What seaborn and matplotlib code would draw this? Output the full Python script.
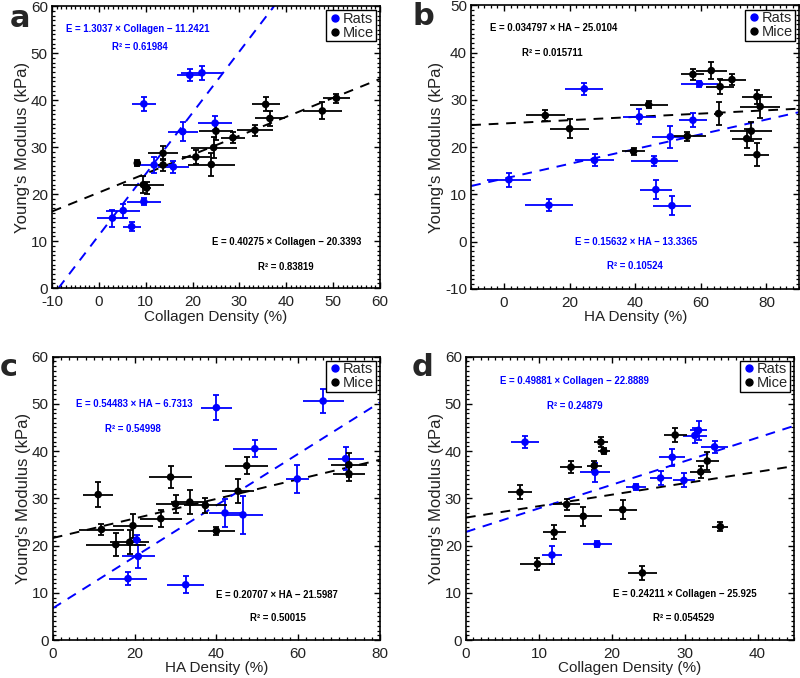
import numpy as np
import pandas as pd
import matplotlib
matplotlib.use("Agg")
import matplotlib.pyplot as plt
import seaborn as sns
from matplotlib.ticker import MultipleLocator
from matplotlib.lines import Line2D

# ---------------- data ----------------
# Panel a: Young's modulus vs collagen density
a_rats_x = [2.9, 5.2, 7.0, 9.6, 9.6, 11.8, 15.9, 17.9, 19.4, 22.0, 24.8]
a_rats_y = [14.9, 16.5, 13.1, 18.4, 39.2, 26.2, 25.8, 33.3, 45.3, 45.8, 35.1]
a_rats_xerr = [3.4, 3.6, 1.9, 3.7, 2.5, 4.3, 3.3, 3.2, 2.8, 4.4, 3.7]
a_rats_yerr = [1.8, 1.5, 1.0, 0.8, 1.5, 1.8, 1.3, 2.0, 1.3, 1.5, 1.5]
a_mice_x = [8.2, 9.5, 10.2, 13.7, 13.7, 20.7, 24.0, 24.5, 25.0, 28.6, 33.3, 35.6, 36.5, 47.7, 50.7]
a_mice_y = [26.6, 22.0, 21.3, 28.7, 26.2, 27.9, 26.3, 29.9, 33.4, 32.0, 33.6, 39.1, 36.1, 37.7, 40.4]
a_mice_xerr = [0.8, 4.3, 1.0, 3.2, 1.0, 3.0, 5.0, 4.9, 3.7, 2.5, 3.9, 3.0, 3.2, 4.1, 2.8]
a_mice_yerr = [0.6, 1.8, 1.2, 1.5, 1.3, 1.5, 2.5, 2.2, 1.8, 1.2, 1.2, 1.5, 1.5, 1.8, 1.0]

# Panel b: Young's modulus vs HA density
b_rats_x = [1.5, 13.7, 24.5, 27.6, 41.3, 45.8, 46.3, 50.7, 51.2, 57.6, 59.6]
b_rats_y = [13.1, 7.7, 32.35, 17.2, 26.4, 17.1, 11.0, 22.2, 7.6, 25.7, 33.4]
b_rats_xerr = [6.6, 7.3, 5.8, 6.0, 5.0, 7.2, 4.8, 5.5, 5.8, 4.3, 5.7]
b_rats_yerr = [1.5, 1.3, 1.3, 1.3, 1.6, 1.0, 2.0, 2.3, 2.0, 1.5, 0.6]
b_mice_x = [12.6, 20.0, 39.5, 44.1, 55.9, 57.6, 63.2, 65.9, 65.4, 69.5, 75.4, 74.0, 77.1, 78.1, 77.1]
b_mice_y = [26.7, 23.9, 19.1, 29.0, 22.3, 35.4, 36.2, 32.8, 27.1, 34.3, 23.4, 21.8, 30.7, 28.6, 18.4]
b_mice_xerr = [6.0, 6.0, 3.5, 5.8, 5.8, 3.5, 4.8, 4.3, 1.5, 4.3, 6.4, 4.6, 4.6, 6.1, 3.8]
b_mice_yerr = [1.2, 2.0, 0.8, 0.8, 1.0, 1.2, 1.8, 1.6, 2.5, 1.2, 2.0, 2.0, 1.5, 2.5, 2.5]

# Panel c: Young's modulus vs HA density
c_rats_x = [18.4, 20.9, 20.5, 32.5, 40.0, 42.1, 46.5, 49.4, 59.8, 66.1, 71.6]
c_rats_y = [13.0, 17.7, 21.2, 11.7, 49.2, 26.9, 26.5, 40.5, 34.1, 50.6, 38.4]
c_rats_xerr = [4.6, 4.0, 1.0, 4.5, 3.8, 4.0, 4.9, 5.4, 2.8, 5.0, 4.4]
c_rats_yerr = [1.4, 2.5, 1.0, 1.8, 2.7, 3.0, 4.0, 1.8, 3.0, 2.6, 2.5]
c_mice_x = [11.1, 11.9, 15.4, 18.8, 19.6, 26.4, 28.8, 30.0, 33.5, 37.3, 40.0, 45.3, 47.4, 72.4, 72.4]
c_mice_y = [30.8, 23.4, 20.2, 20.7, 24.2, 25.7, 34.5, 28.8, 29.2, 28.5, 23.1, 31.5, 36.9, 37.1, 35.2]
c_mice_xerr = [3.7, 5.5, 7.3, 4.8, 4.9, 5.1, 5.3, 4.8, 4.5, 5.3, 4.5, 3.9, 5.3, 4.5, 3.9]
c_mice_yerr = [2.7, 1.2, 2.5, 2.5, 2.5, 1.8, 2.3, 1.8, 2.5, 1.5, 0.8, 2.5, 1.8, 2.5, 1.5]

# Panel d: Young's modulus vs collagen density
d_rats_x = [8.1, 11.8, 17.7, 18.0, 23.3, 26.7, 28.3, 29.9, 31.4, 31.9, 34.1]
d_rats_y = [41.9, 18.0, 35.5, 20.3, 32.4, 34.3, 38.7, 33.8, 43.3, 44.4, 40.9]
d_rats_xerr = [1.9, 1.4, 2.1, 2.0, 1.4, 1.5, 1.8, 1.5, 1.6, 1.1, 1.9]
d_rats_yerr = [1.3, 2.0, 2.0, 0.6, 0.6, 1.5, 1.8, 1.5, 1.5, 2.0, 1.2]
d_mice_x = [7.4, 9.8, 12.1, 13.8, 14.4, 16.1, 17.6, 18.5, 18.9, 21.5, 24.2, 28.7, 32.2, 33.1, 34.9]
d_mice_y = [31.3, 16.1, 22.8, 28.7, 36.6, 26.2, 36.9, 41.9, 40.0, 27.6, 14.2, 43.4, 35.6, 37.9, 24.0]
d_mice_xerr = [1.6, 2.4, 1.6, 1.8, 1.5, 2.6, 1.0, 1.0, 0.8, 1.9, 2.0, 1.6, 1.4, 1.6, 1.1]
d_mice_yerr = [1.5, 1.2, 1.5, 1.2, 1.2, 2.0, 1.0, 1.0, 0.6, 2.0, 1.5, 1.5, 1.3, 2.0, 1.0]

# Fitted lines (slope, intercept as drawn) and their labels
fit_rats_slope = [1.3037, 0.15632, 0.54483, 0.49881]
fit_rats_icpt = [11.2421, 13.3365, 6.7313, 22.8889]
fit_mice_slope = [0.40275, 0.034797, 0.20707, 0.24211]
fit_mice_icpt = [20.3393, 25.0104, 21.5987, 25.925]
rats_eq = ["E = 1.3037 × Collagen − 11.2421", "E = 0.15632 × HA − 13.3365",
           "E = 0.54483 × HA − 6.7313", "E = 0.49881 × Collagen − 22.8889"]
rats_r2 = ["R² = 0.61984", "R² = 0.10524", "R² = 0.54998", "R² = 0.24879"]
mice_eq = ["E = 0.40275 × Collagen − 20.3393", "E = 0.034797 × HA − 25.0104",
           "E = 0.20707 × HA − 21.5987", "E = 0.24211 × Collagen − 25.925"]
mice_r2 = ["R² = 0.83819", "R² = 0.015711", "R² = 0.50015", "R² = 0.054529"]
panel_letters = ["a", "b", "c", "d"]
x_labels = ["Collagen Density (%)", "HA Density (%)", "HA Density (%)", "Collagen Density (%)"]
y_label = "Young's Modulus (kPa)"
group_names = ["Rats", "Mice"]

# ---------------- style ----------------
sns.set_theme(style="ticks")
plt.rcParams["font.family"] = ["Liberation Sans", "DejaVu Sans"]
plt.rcParams["axes.unicode_minus"] = False
BLUE = "#0000ff"
palette = {"Rats": BLUE, "Mice": "black"}

fig = plt.figure(figsize=(8.0, 6.78), dpi=100)

# layout (figure fractions)
boxes = [
    [0.065, 0.575, 0.410, 0.416],
    [0.589, 0.574, 0.410, 0.418],
    [0.066, 0.056, 0.409, 0.418],
    [0.5825, 0.056, 0.410, 0.418],
]
xlims = [(-10, 60), (-10, 90), (0, 80), (0, 45)]
ylims = [(0, 60), (-10, 50), (0, 60), (0, 60)]
xmaj = [10, 20, 20, 10]
xmin = [1, 2, 2, 1]
# text positions (axes fractions)
rats_eq_pos = [(0.262, 0.92), (0.503, 0.165), (0.25, 0.834), (0.332, 0.913)]
rats_r2_pos = [(0.268, 0.855), (0.50, 0.079), (0.246, 0.745), (0.333, 0.827)]
mice_eq_pos = [(0.714, 0.162), (0.252, 0.922), (0.686, 0.159), (0.667, 0.161)]
mice_r2_pos = [(0.712, 0.076), (0.246, 0.833), (0.689, 0.077), (0.665, 0.077)]
letter_pos = [(0.012, 0.972), (0.516, 0.975), (0.0, 0.458), (0.514, 0.458)]

panels = [
    (a_rats_x, a_rats_y, a_rats_xerr, a_rats_yerr, a_mice_x, a_mice_y, a_mice_xerr, a_mice_yerr),
    (b_rats_x, b_rats_y, b_rats_xerr, b_rats_yerr, b_mice_x, b_mice_y, b_mice_xerr, b_mice_yerr),
    (c_rats_x, c_rats_y, c_rats_xerr, c_rats_yerr, c_mice_x, c_mice_y, c_mice_xerr, c_mice_yerr),
    (d_rats_x, d_rats_y, d_rats_xerr, d_rats_yerr, d_mice_x, d_mice_y, d_mice_xerr, d_mice_yerr),
]

for i, p in enumerate(panels):
    rx, ry, rxe, rye, mx, my, mxe, mye = p
    df = pd.concat([
        pd.DataFrame({"x": rx, "y": ry, "xerr": rxe, "yerr": rye, "Group": "Rats"}),
        pd.DataFrame({"x": mx, "y": my, "xerr": mxe, "yerr": mye, "Group": "Mice"}),
    ], ignore_index=True)
    ax = fig.add_axes(boxes[i])
    ax.set_xlim(*xlims[i])
    ax.set_ylim(*ylims[i])

    # regression lines
    ax.axline((0, fit_mice_icpt[i]), slope=fit_mice_slope[i], color="black",
              ls=(0, (5, 4)), lw=1.4, zorder=2)
    ax.axline((0, fit_rats_icpt[i]), slope=fit_rats_slope[i], color=BLUE,
              ls=(0, (5, 4)), lw=1.4, zorder=2)

    # error bars
    for g in group_names:
        sub = df[df["Group"] == g]
        ax.errorbar(sub["x"], sub["y"], yerr=sub["yerr"], fmt="none",
                    ecolor=palette[g], elinewidth=1.3, capsize=2.0, capthick=1.3, zorder=3)
        ax.errorbar(sub["x"], sub["y"], xerr=sub["xerr"], fmt="none",
                    ecolor=palette[g], elinewidth=1.3, capsize=0, zorder=3)

    sns.scatterplot(data=df, x="x", y="y", hue="Group", palette=palette,
                    s=30, edgecolor="none", legend=False, ax=ax, zorder=4)

    # texts
    ax.text(*rats_eq_pos[i], rats_eq[i], transform=ax.transAxes, ha="center", va="center",
            color=BLUE, fontsize=6.9, fontweight="bold")
    ax.text(*rats_r2_pos[i], rats_r2[i], transform=ax.transAxes, ha="center", va="center",
            color=BLUE, fontsize=6.9, fontweight="bold")
    ax.text(*mice_eq_pos[i], mice_eq[i], transform=ax.transAxes, ha="center", va="center",
            color="black", fontsize=6.9, fontweight="bold")
    ax.text(*mice_r2_pos[i], mice_r2[i], transform=ax.transAxes, ha="center", va="center",
            color="black", fontsize=6.9, fontweight="bold")

    # axes styling
    ax.set_xlabel(x_labels[i], fontsize=11, color="#222222", labelpad=0.3)
    ax.set_ylabel(y_label, fontsize=12, color="#222222", labelpad=0.5)
    ax.xaxis.set_major_locator(MultipleLocator(xmaj[i]))
    ax.xaxis.set_minor_locator(MultipleLocator(xmin[i]))
    ax.yaxis.set_major_locator(MultipleLocator(10))
    ax.yaxis.set_minor_locator(MultipleLocator(1))
    ax.tick_params(which="both", direction="in", top=True, right=True, colors="black",
                   labelcolor="#222222", labelsize=11)
    ax.tick_params(axis="x", which="major", pad=5)
    ax.tick_params(axis="y", which="major", pad=3)
    ax.tick_params(which="major", length=4, width=1.0)
    ax.tick_params(which="minor", length=2.2, width=0.9)
    for s in ax.spines.values():
        s.set_visible(True)
        s.set_color("black")
        s.set_linewidth(1.2)

    handles = [Line2D([], [], marker="o", ls="", color=palette[g], markersize=5) for g in group_names]
    leg = ax.legend(handles, group_names, loc="upper right", fontsize=10.5, frameon=True,
                    fancybox=False, framealpha=1, edgecolor="black", borderaxespad=0.3,
                    handletextpad=0.05, handlelength=1.0, borderpad=0.1, labelspacing=0.0)
    leg.get_frame().set_linewidth(1.0)

    fig.text(*letter_pos[i], panel_letters[i], fontsize=22, fontweight="bold",
             family="DejaVu Sans", ha="left", va="center")

fig.savefig("out.png", dpi=100)
